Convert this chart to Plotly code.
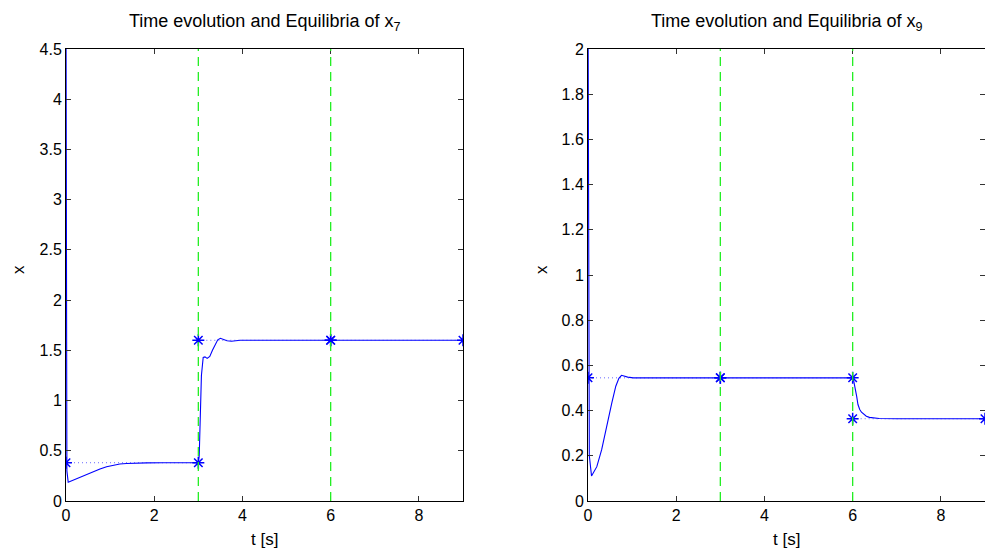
import plotly.graph_objects as go

# ---------------- data ----------------
# x7 time response
t7 = [0, 0.02, 0.05, 0.15, 0.32, 0.47, 0.62, 0.77, 0.92, 1.07, 1.22, 1.37, 1.53, 1.83,
      2.2, 2.6, 3.0, 3.02, 3.04, 3.07, 3.11, 3.15, 3.2, 3.26, 3.32, 3.38, 3.44, 3.5,
      3.57, 3.65, 3.75, 3.85, 3.95, 4.5, 5, 6, 7, 8, 9]
x7 = [5.0, 0.30, 0.186, 0.205, 0.236, 0.265, 0.292, 0.318, 0.341, 0.356, 0.368, 0.374,
      0.378, 0.380, 0.381, 0.381, 0.381, 0.45, 0.81, 1.25, 1.43, 1.435, 1.42, 1.44, 1.50,
      1.56, 1.605, 1.62, 1.61, 1.595, 1.59, 1.595, 1.6, 1.6, 1.6, 1.6, 1.6, 1.6, 1.6]

# x9 time response
t9 = [0, 0.03, 0.08, 0.2, 0.31, 0.42, 0.54, 0.63, 0.7, 0.76, 0.82, 0.9, 1.03, 1.5, 2,
      3, 4, 5, 6.0, 6.02, 6.05, 6.09, 6.12, 6.16, 6.2, 6.25, 6.31, 6.38, 6.46, 6.6, 7, 8, 9]
x9 = [2.3, 0.2, 0.111, 0.152, 0.227, 0.33, 0.434, 0.508, 0.543, 0.556, 0.553, 0.548,
      0.545, 0.545, 0.545, 0.545, 0.545, 0.545, 0.545, 0.535, 0.508, 0.464, 0.427, 0.405,
      0.393, 0.383, 0.375, 0.370, 0.367, 0.365, 0.364, 0.364, 0.364]

# equilibria per interval
seg_start = [0, 3, 6]
seg_end = [3, 6, 9]
eq7 = [0.381, 1.6, 1.6]
eq9 = [0.545, 0.545, 0.364]

# switching times
switch_t = [3, 6]

x_ticks = [0, 2, 4, 6, 8]
y7_ticks = [0, 0.5, 1, 1.5, 2, 2.5, 3, 3.5, 4, 4.5]
y9_ticks = [0, 0.2, 0.4, 0.6, 0.8, 1, 1.2, 1.4, 1.6, 1.8, 2]

# ---------------- figure ----------------
W, H = 985, 550
FONT = "Liberation Sans, Arial, Helvetica, sans-serif"
BLUE = "#0000ff"
GREEN = "#22ee22"

fig = go.Figure()

def add_panel(t, x, eq, xa, ya):
    fig.add_trace(go.Scatter(x=t, y=x, mode="lines", line=dict(color=BLUE, width=1.1),
                             xaxis=xa, yaxis=ya, showlegend=False))
    for s, e, v in zip(seg_start, seg_end, eq):
        fig.add_trace(go.Scatter(x=[s, e], y=[v, v], mode="lines+markers",
                                 line=dict(color="rgba(40,40,255,0.7)", width=1, dash="1px,3px"),
                                 marker=dict(symbol="asterisk-open", size=10, color=BLUE,
                                             line=dict(color="#0000dd", width=1.5)),
                                 xaxis=xa, yaxis=ya, showlegend=False))
    for st in switch_t:
        fig.add_shape(type="line", x0=st, x1=st, y0=0, y1=1,
                      xref=xa, yref=ya + " domain",
                      line=dict(color=GREEN, width=1.3, dash="9px,6px"))

add_panel(t7, x7, eq7, "x", "y")
add_panel(t9, x9, eq9, "x2", "y2")

ydom = [1 - 501 / H, 1 - 49 / H]
axis_common = dict(showline=True, linecolor="black", linewidth=1, mirror="ticks",
                   ticks="inside", ticklen=5, tickcolor="#333", showgrid=False,
                   zeroline=False, automargin=False,
                   tickfont=dict(family=FONT, size=16, color="black"))

fig.update_layout(
    width=W, height=H,
    margin=dict(l=0, r=0, t=0, b=0),
    paper_bgcolor="white", plot_bgcolor="white",
    font=dict(family=FONT, color="black"),
    xaxis=dict(domain=[66 / W, 463 / W], range=[0, 9], tickvals=x_ticks,
               anchor="y", **axis_common),
    yaxis=dict(domain=ydom, range=[0, 4.5], tickvals=y7_ticks,
               ticktext=[f"{v:g}" for v in y7_ticks], anchor="x", **axis_common),
    xaxis2=dict(domain=[588 / W, 1.0], range=[0, 9], tickvals=x_ticks,
                anchor="y2", **axis_common),
    yaxis2=dict(domain=ydom, range=[0, 2], tickvals=y9_ticks,
                ticktext=[f"{v:g}" for v in y9_ticks], anchor="x2", **axis_common),
)

def px_x(p):
    return p / W

def px_y(p):
    return 1 - p / H

annots = [
    dict(text="Time evolution and Equilibria of x<sub>7</sub>", x=px_x(265), y=px_y(22), size=18),
    dict(text="Time evolution and Equilibria of x<sub>9</sub>", x=px_x(787), y=px_y(22), size=18),
    dict(text="t [s]", x=px_x(264), y=px_y(539), size=17),
    dict(text="t [s]", x=px_x(786), y=px_y(539), size=17),
    dict(text="x", x=px_x(18), y=px_y(270), size=17, textangle=-90),
    dict(text="x", x=px_x(541), y=px_y(270), size=17, textangle=-90),
]
for a in annots:
    size = a.pop("size")
    fig.add_annotation(xref="paper", yref="paper", showarrow=False,
                       xanchor="center", yanchor="middle",
                       font=dict(family=FONT, size=size, color="black"), **a)

fig.write_html("out.html", config={"displayModeBar": False},
               post_script="document.body.style.margin='0';document.body.style.overflow='hidden';")
